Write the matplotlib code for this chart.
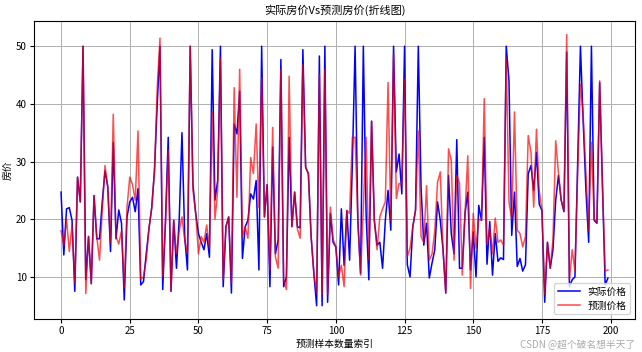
import numpy as np
import matplotlib
matplotlib.use('Agg')
import matplotlib.pyplot as plt

plt.rcParams['font.family'] = ['Noto Sans CJK SC', 'DejaVu Sans']
plt.rcParams['axes.unicode_minus'] = False

# 实际价格
actual = [
    24.7, 13.8, 21.8, 22.0, 19.8, 7.5, 27.3, 23.0, 50.0, 9.5,
    17.0, 8.8, 24.1, 16.6, 16.6, 23.0, 28.4, 25.6, 14.4, 33.3,
    16.6, 21.6, 19.3, 6.0, 20.4, 23.0, 23.8, 21.3, 25.3, 8.6,
    9.2, 14.0, 18.4, 22.0, 28.4, 40.0, 50.0, 7.8, 19.8, 34.2,
    7.5, 19.8, 11.5, 20.0, 35.0, 17.0, 11.2, 50.0, 26.0, 21.0,
    17.5, 16.0, 14.7, 17.5, 13.4, 49.4, 23.3, 26.7, 50.0, 8.3,
    18.7, 20.4, 7.2, 36.5, 34.8, 42.2, 13.2, 18.7, 19.8, 24.4,
    23.5, 26.7, 11.2, 50.0, 20.4, 26.0, 8.3, 32.5, 14.0, 16.4,
    47.7, 8.3, 10.0, 34.2, 18.7, 24.7, 18.7, 18.5, 49.4, 29.0,
    27.9, 17.0, 10.6, 5.0, 48.3, 5.0, 50.0, 5.6, 21.0, 16.0,
    15.2, 8.6, 21.8, 12.0, 21.5, 12.9, 29.6, 50.0, 19.8, 10.6,
    50.0, 21.0, 9.5, 37.0, 19.8, 15.5, 16.0, 11.5, 19.8, 25.0,
    18.1, 50.0, 28.2, 31.3, 24.4, 50.0, 12.1, 10.0, 18.7, 21.6,
    50.0, 25.6, 15.5, 19.3, 9.8, 12.4, 14.7, 23.0, 19.8, 14.7,
    7.2, 27.6, 17.5, 14.0, 33.8, 11.5, 11.5, 21.0, 24.7, 11.2,
    17.8, 10.0, 22.4, 19.8, 34.2, 12.2, 19.6, 10.3, 17.5, 12.7,
    13.3, 13.0, 50.0, 44.0, 17.2, 24.7, 11.8, 13.2, 11.0, 12.1,
    27.9, 29.3, 25.0, 31.6, 22.6, 21.5, 5.6, 16.0, 11.5, 14.7,
    23.3, 27.6, 23.3, 21.3, 49.0, 8.3, 9.5, 10.0, 30.0, 50.0,
    37.0, 25.0, 16.0, 50.0, 19.8, 19.3, 43.7, 26.0, 8.6, 9.8,
]

# 预测价格
predicted = [
    18.0, 15.5, 20.0, 14.4, 19.0, 9.0, 27.3, 23.0, 50.0, 7.1,
    17.0, 8.9, 24.1, 17.0, 12.9, 21.5, 29.3, 25.6, 16.0, 38.2,
    17.0, 15.7, 18.0, 8.1, 22.0, 27.3, 26.0, 23.3, 35.3, 9.6,
    10.0, 13.0, 18.4, 22.0, 28.4, 42.8, 51.4, 10.0, 19.0, 32.0,
    7.5, 19.8, 14.0, 18.0, 20.4, 16.4, 14.0, 50.0, 25.0, 21.0,
    14.0, 17.0, 16.0, 19.0, 15.0, 38.6, 20.0, 25.0, 48.0, 9.5,
    18.7, 20.4, 8.9, 42.8, 23.8, 46.0, 17.0, 18.7, 16.7, 30.7,
    27.9, 36.5, 22.0, 44.5, 20.4, 26.0, 11.2, 35.9, 13.5, 11.5,
    46.0, 9.5, 7.8, 44.8, 18.7, 24.7, 18.3, 16.7, 46.8, 29.0,
    27.9, 17.0, 10.6, 7.2, 45.1, 7.0, 46.0, 7.0, 22.1, 16.5,
    15.2, 10.0, 12.0, 8.3, 21.5, 21.0, 34.2, 34.2, 19.8, 10.3,
    22.0, 34.2, 13.0, 37.0, 19.8, 14.7, 20.4, 21.8, 23.0, 43.7,
    19.8, 48.6, 23.6, 26.2, 26.0, 44.3, 13.5, 15.0, 18.7, 21.6,
    35.3, 17.0, 16.0, 25.8, 12.9, 14.0, 18.0, 26.4, 28.2, 14.7,
    7.2, 32.2, 30.2, 12.9, 27.6, 26.2, 10.3, 21.0, 31.0, 8.0,
    21.0, 15.0, 20.0, 19.8, 40.9, 15.6, 18.5, 14.0, 20.2, 16.0,
    16.4, 15.5, 48.0, 23.0, 20.0, 38.6, 18.1, 17.5, 15.2, 17.0,
    34.5, 31.6, 22.1, 35.6, 25.0, 21.5, 7.0, 16.0, 11.5, 16.4,
    33.6, 28.0, 23.3, 21.5, 52.0, 9.5, 14.7, 11.0, 28.0, 43.4,
    38.0, 28.0, 18.1, 33.3, 20.0, 19.5, 44.0, 26.0, 11.0, 11.2,
]

idx = np.arange(len(actual))

fig = plt.figure(figsize=(6.42, 3.52), dpi=100)
ax = fig.add_axes([0.0525, 0.093, 0.937, 0.847])

ax.plot(idx, actual, color='blue', linewidth=1.1, label='实际价格')
ax.plot(idx, predicted, color='red', linewidth=1.1, alpha=0.7, label='预测价格')

ax.set_title('实际房价Vs预测房价(折线图)', fontsize=8, pad=5)
ax.set_xlabel('预测样本数量索引', fontsize=7, labelpad=2)
ax.set_ylabel('房价', fontsize=7, labelpad=2)
ax.tick_params(labelsize=7, length=3, width=0.8, pad=2)
ax.grid(True, color='#b0b0b0', linewidth=0.7)
ax.legend(loc='lower right', fontsize=7, handlelength=2.2, borderpad=0.4, labelspacing=0.4)

# 水印
fig.text(0.99, 0.008, 'CSDN @超个破名想半天了', ha='right', va='bottom',
         fontsize=7, color='#aaaaaa')

fig.savefig('out.png', dpi=100)
